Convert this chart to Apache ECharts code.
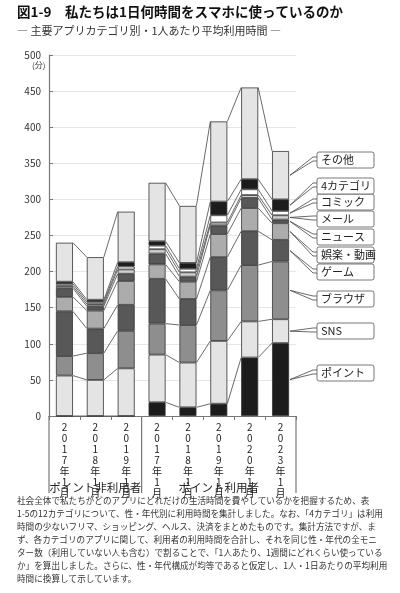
<!DOCTYPE html>
<html><head><meta charset="utf-8">
<script src="https://cdn.jsdelivr.net/npm/echarts@6/dist/echarts.min.js"></script>
<style>html,body{margin:0;padding:0;background:#fff}#c{width:400px;height:593px}</style>
</head><body><div id="c"></div>
<script>
const categories = ['2017年1月','2018年1月','2019年1月','2017年1月','2018年1月','2019年1月','2020年1月','2023年1月'];
const groupLabels = ['ポイント非利用者','ポイント利用者'];
const layerNames = ['ポイント','SNS','ブラウザ','ゲーム','娯楽・動画','ニュース','メール','コミック','4カテゴリ','その他'];
const point  = [0, 0, 0, 19, 12, 17, 81, 101];
const sns    = [56, 50, 66, 66, 62, 87, 50, 33];
const browser= [27, 37, 52, 43, 52, 70, 78, 80];
const game   = [62, 34, 36, 62, 36, 46, 47, 30];
const ent    = [20, 25, 33, 20, 24, 32, 32, 23];
const news   = [12, 6, 10, 15, 7, 12, 14, 5];
const mail   = [3, 3, 6, 6, 6, 4, 4, 6];
const comic  = [3, 3, 4, 5, 5, 10, 8, 6];
const four   = [3, 3, 6, 6, 8, 19, 14, 16];
const other  = [54, 59, 70, 81, 79, 111, 127, 67];
const yTicks = [0,50,100,150,200,250,300,350,400,450,500];
const bottomText = [
 '社会全体で私たちがどのアプリにどれだけの生活時間を費やしているかを把握するため、表',
 '1-5の12カテゴリについて、性・年代別に利用時間を集計しました。なお、「4カテゴリ」は利用',
 '時間の少ないフリマ、ショッピング、ヘルス、決済をまとめたものです。集計方法ですが、ま',
 'ず、各カテゴリのアプリに関して、利用者の利用時間を合計し、それを同じ性・年代の全モニ',
 'ター数（利用していない人も含む）で割ることで、「1人あたり、1週間にどれくらい使っている',
 'か」を算出しました。さらに、性・年代構成が均等であると仮定し、1人・1日あたりの平均利用',
 '時間に換算して示しています。'
];
const layers = [point,sns,browser,game,ent,news,mail,comic,four,other];
const colors = ['#1c1c1c','#e4e4e4','#8e8e8e','#585858','#acacac','#585858','#cfcfcf','#ffffff','#1c1c1c','#e4e4e4'];
const FONT = '"Noto Sans CJK JP", sans-serif';
const groups = [[0,1,2],[3,4,5,6,7]];
const BW = 17;

// cumulative tops
const cum = layers.map((_,li)=>categories.map((_,ci)=>{let s=0;for(let k=0;k<=li;k++)s+=layers[k][ci];return s;}));

const series = layerNames.map((n,i)=>({
  name:n, type:'bar', stack:'s', barWidth:BW, data:layers[i],
  itemStyle:{color:colors[i], borderColor:'#333', borderWidth:0.8}, animation:false
}));
// connecting lines via custom series
const linkData=[];
groups.forEach(g=>{for(let j=0;j<g.length-1;j++){linkData.push([g[j],g[j+1]]);}});
series.push({
  type:'custom', animation:false, silent:true, z:5,
  data: linkData,
  renderItem:(params,api)=>{
    const a=api.value(0), b=api.value(1);
    const ch=[];
    for(let li=-1;li<layers.length;li++){
      const va = li<0?0:cum[li][a], vb = li<0?0:cum[li][b];
      if(li<0) continue;
      const pa=api.coord([a,va]), pb=api.coord([b,vb]);
      ch.push({type:'line',shape:{x1:pa[0]+BW/2,y1:pa[1],x2:pb[0]-BW/2,y2:pb[1]},style:{stroke:'#444',lineWidth:0.8}});
    }
    return {type:'group',children:ch};
  },
  encode:{x:0,y:1}
});

const chart = echarts.init(document.getElementById('c'),null,{renderer:'canvas'});
chart.setOption({
  animation:false,
  grid:{left:49,top:55,width:247,height:361,containLabel:false},
  xAxis:{type:'category',data:categories,
    axisLine:{lineStyle:{color:'#777',width:1.2}},
    axisTick:{show:true,interval:0,length:4,lineStyle:{color:'#777'}},
    axisLabel:{interval:0,fontSize:10,fontFamily:FONT,color:'#222',lineHeight:11,margin:6,
      formatter:v=>v.split('').join('\n')}},
  yAxis:{type:'value',min:0,max:500,interval:50,
    axisLine:{show:true,lineStyle:{color:'#777',width:1.2}},
    axisTick:{show:true,length:4,inside:true,lineStyle:{color:'#777'}},
    splitLine:{lineStyle:{color:'#e6e6e6'}},
    axisLabel:{fontSize:10,fontFamily:FONT,color:'#333',margin:8,formatter:v=>yTicks.includes(v)?String(v):''}},
  series
});

// graphics: title, labels, dividers, callouts
const g=[];
g.push({type:'text',left:17,top:5,style:{text:'図1-9　私たちは1日何時間をスマホに使っているのか',font:'bold 13.5px '+FONT,fill:'#111'}});
g.push({type:'text',left:17,top:25,style:{text:'― 主要アプリカテゴリ別・1人あたり平均利用時間 ―',font:'11px '+FONT,fill:'#333'}});
g.push({type:'text',left:32,top:61,style:{text:'(分)',font:'8px '+FONT,fill:'#333'}});
const x0=chart.convertToPixel({xAxisIndex:0},0), step=chart.convertToPixel({xAxisIndex:0},1)-x0;
const yBase=chart.convertToPixel({yAxisIndex:0},0);
[x0-step/2, x0+2.5*step, x0+7.5*step].forEach(x=>{
  g.push({type:'line',shape:{x1:x,y1:yBase,x2:x,y2:493},style:{stroke:'#777',lineWidth:1.2}});
});
g.push({type:'text',x:x0+step,y:488,style:{text:groupLabels[0],font:'11.5px '+FONT,fill:'#222',align:'center',verticalAlign:'middle'}});
g.push({type:'text',x:x0+5*step,y:488,style:{text:groupLabels[1],font:'11.5px '+FONT,fill:'#222',align:'center',verticalAlign:'middle'}});
bottomText.forEach((t,i)=>g.push({type:'text',left:17,top:496+i*13,style:{text:t,font:'8.6px '+FONT,fill:'#333'}}));
// callouts
const labelY=[373,331,299,272,255,237,219,202,186,160];
const last=categories.length-1;
const xr=chart.convertToPixel({xAxisIndex:0},last)+BW/2;
layerNames.forEach((n,i)=>{
  const lo=i?cum[i-1][last]:0, hi=cum[i][last];
  const yp=chart.convertToPixel({yAxisIndex:0},(lo+hi)/2);
  const ly=labelY[i];
  g.push({type:'polyline',shape:{points:[[xr+1,yp],[313,ly-3],[319,ly-3]]},style:{stroke:'#444',fill:null,lineWidth:0.8}});
  g.push({type:'polyline',shape:{points:[[xr+1,yp],[313,ly+1],[319,ly+1]]},style:{stroke:'#444',fill:null,lineWidth:0.8}});
  g.push({type:'rect',shape:{x:317,y:ly-8,width:57,height:16,r:2},style:{fill:'#fff',stroke:'#555',lineWidth:0.8}});
  g.push({type:'text',x:321,y:ly,style:{text:n,font:'11px '+FONT,fill:'#222',verticalAlign:'middle'}});
});
chart.setOption({graphic:g});
</script></body></html>
